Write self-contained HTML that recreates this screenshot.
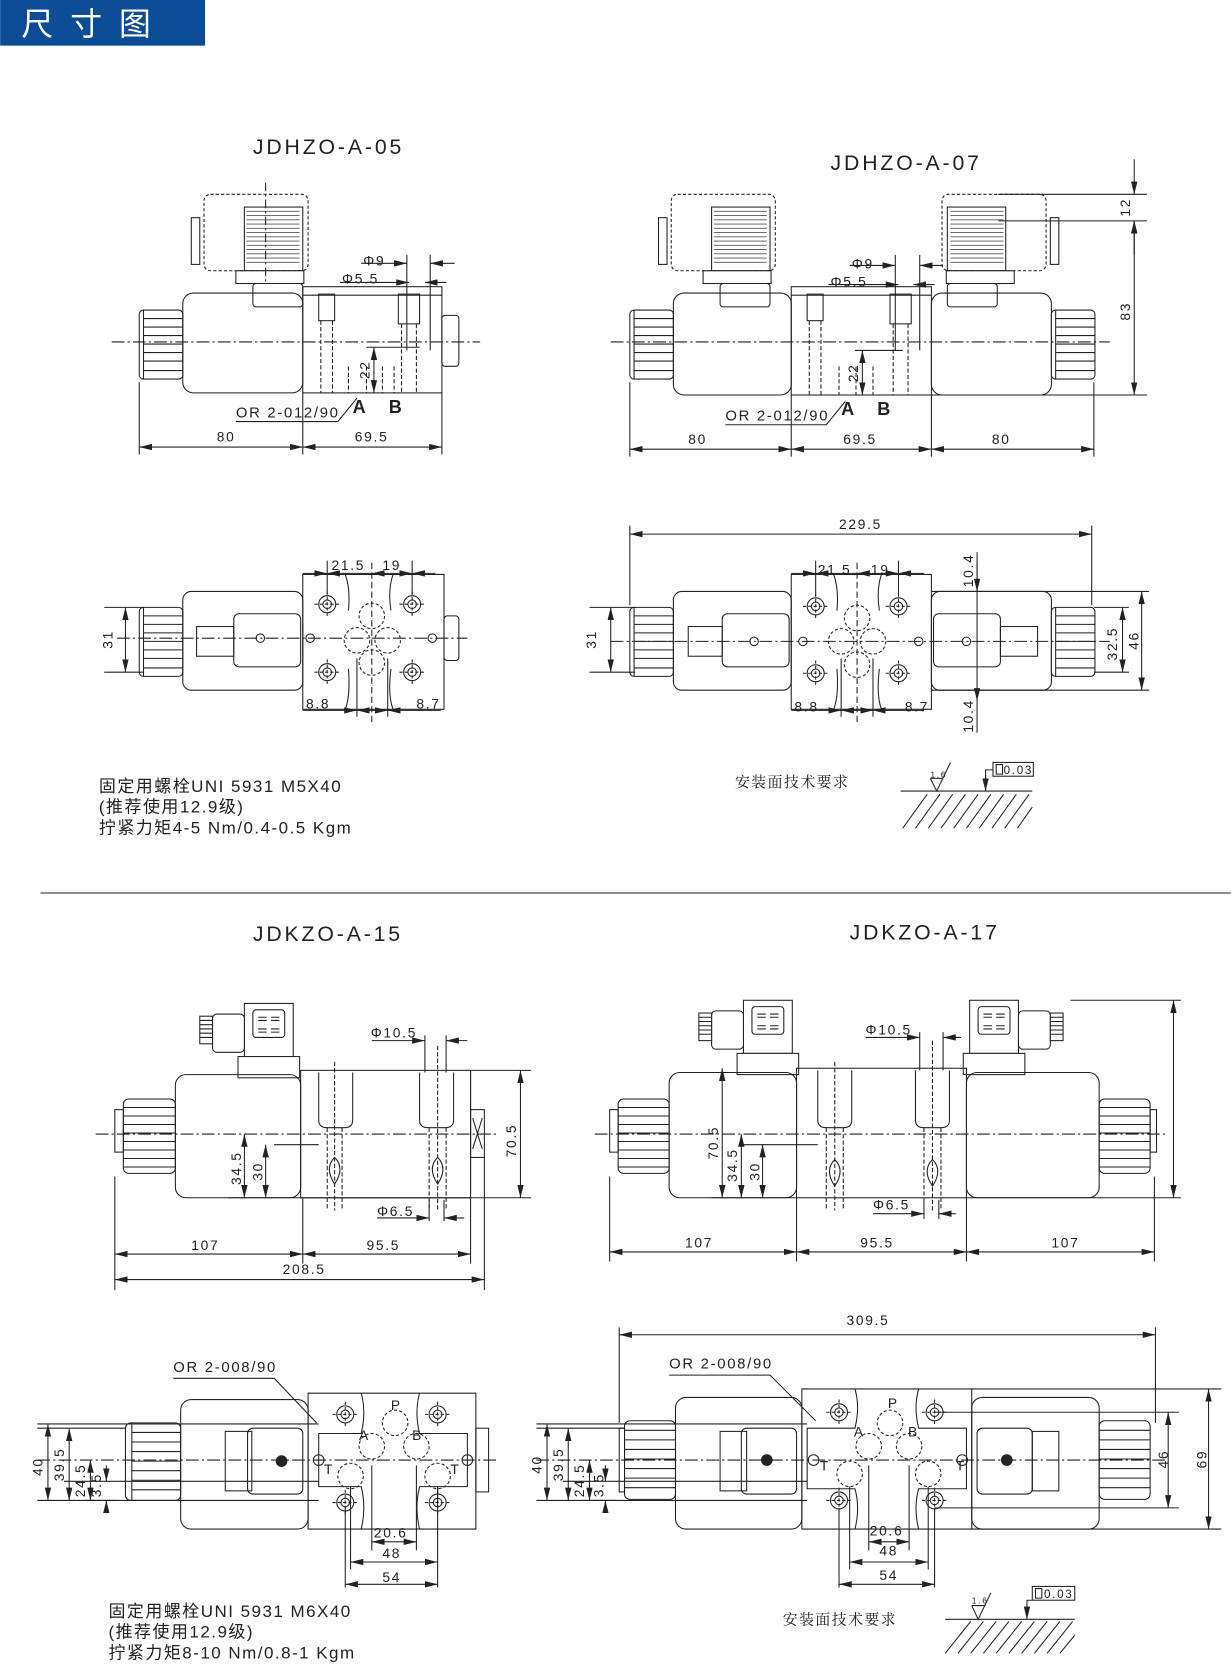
<!DOCTYPE html>
<html><head><meta charset="utf-8"><style>
html,body{margin:0;padding:0;background:#fff}
svg{display:block}
text{font-family:"Liberation Sans","Noto Sans CJK SC",sans-serif;fill:#222}
.t{letter-spacing:2.7px}
.d{letter-spacing:1.6px}
.n{letter-spacing:1.4px}
</style></head><body>
<svg width="1231" height="1665" viewBox="0 0 1159 1568" xmlns="http://www.w3.org/2000/svg">
<defs>
<marker id="a" viewBox="0 0 12 6" refX="12" refY="3" markerWidth="12" markerHeight="6" markerUnits="userSpaceOnUse" orient="auto-start-reverse"><path d="M0,0 L12,3 L0,6 z" fill="#222"/></marker>
<g id="knS"><rect x="0" y="0" width="41" height="65" rx="4" fill="#fff" stroke="#222"/><path d="M4,0V65M4,8H41M4,16H41M4,24H41M4,32H41M4,40H41M4,48H41M4,57H41" stroke="#222" fill="none"/></g>
<g id="hole"><circle r="8" fill="none" stroke="#222"/><circle r="4" fill="none" stroke="#222"/><path d="M-12,0H12M0,-12V12" stroke="#222" stroke-dasharray="3 2"/></g>
<g id="port"><circle r="12" fill="none" stroke="#222" stroke-dasharray="3 2"/></g>
<g id="conA"><rect x="0" y="0" width="98" height="72" rx="6" fill="none" stroke="#222" stroke-dasharray="3 2"/><rect x="38" y="12" width="55" height="60" fill="none" stroke="#222"/><path d="M40,16H90M40,20H90M40,24H90M40,28H90M40,32H90M40,36H90M40,40H90M40,44H90M40,48H90M40,52H90M40,56H90M40,60H90M40,64H90" stroke="#555" stroke-width="0.8"/><rect x="-12" y="22" width="8" height="44" fill="none" stroke="#222"/><rect x="30" y="72" width="64" height="12" fill="#fff" stroke="#222"/><rect x="46" y="84" width="47" height="22" rx="3" fill="#fff" stroke="#222"/></g>
<g id="conB"><rect x="0" y="0" width="46" height="50" fill="#fff" stroke="#222"/><rect x="8" y="6" width="30" height="26" rx="3" fill="none" stroke="#222"/><path d="M13,13h8M25,13h8M13,16h8M25,16h8M13,24h8M25,24h8M13,27h8M25,27h8" stroke="#222"/><rect x="-30" y="10" width="30" height="36" rx="4" fill="#fff" stroke="#222"/><rect x="-42" y="12" width="12" height="26" fill="#fff" stroke="#222"/><path d="M-42,16h12M-42,20h12M-42,24h12M-42,28h12M-42,32h12" stroke="#222"/><rect x="-6" y="50" width="58" height="20" fill="#fff" stroke="#222"/></g>
</defs>
<rect x="0" y="0" width="193" height="43" fill="#0d4c97"/>
<text x="20" y="33" font-size="30" style="fill:#fff" letter-spacing="16">尺寸图</text>

<text class="t" x="238" y="145" font-size="20">JDHZO-A-05</text>
<text class="t" x="782" y="160" font-size="20">JDHZO-A-07</text>

<g fill="none" stroke="#222" stroke-width="1">
<!-- Drawing 1 -->
<use href="#conA" x="192" y="183"/>
<path d="M250,172V265" stroke-dasharray="8 3 2 3"/>
<use href="#knS" x="131" y="292"/>
<rect x="172" y="276" width="113" height="94" rx="10"/>
<rect x="285" y="270" width="131" height="100"/>
<path d="M285,278H416"/>
<rect x="416" y="297" width="16" height="48" rx="3"/>
<rect x="300" y="277" width="15" height="25"/><rect x="375" y="277" width="20" height="28"/>
<path d="M302,302V370M313,302V370M378,305V370M392,305V370M328,345V370M345,345V370M360,345V370M371,345V370" stroke-dasharray="4 2"/>
<path d="M105,322H452" stroke-dasharray="12 3 2 3"/>
<path d="M131,360V428M285,370V428M416,370V428"/>
<line x1="131" y1="421" x2="285" y2="421" marker-start="url(#a)" marker-end="url(#a)"/>
<line x1="285" y1="421" x2="416" y2="421" marker-start="url(#a)" marker-end="url(#a)"/>
<path d="M383,240V330M405,240V330"/>
<line x1="340" y1="248" x2="383" y2="248" marker-end="url(#a)"/><line x1="428" y1="248" x2="405" y2="248" marker-end="url(#a)"/>
<line x1="320" y1="266" x2="385" y2="266" marker-end="url(#a)"/><line x1="420" y1="266" x2="400" y2="266" marker-end="url(#a)"/>
<path d="M345,327H395"/>
<line x1="352" y1="327" x2="352" y2="370" marker-start="url(#a)" marker-end="url(#a)"/>
<path d="M222,397H318L336,375"/>

<!-- Drawing 2 -->
<use href="#conA" x="632" y="183"/>
<g transform="translate(1617,0) scale(-1,1)"><use href="#conA" x="632" y="183"/></g>
<use href="#knS" x="593" y="292"/>
<rect x="634" y="276" width="111" height="96" rx="10"/>
<rect x="745" y="270" width="132" height="102"/>
<path d="M745,278H877"/>
<rect x="877" y="276" width="113" height="96" rx="10"/>
<use href="#knS" x="990" y="292"/>
<rect x="760" y="277" width="15" height="25"/><rect x="838" y="277" width="20" height="28"/>
<path d="M762,302V372M773,302V372M841,305V372M855,305V372M790,345V372M806,345V372M822,345V372" stroke-dasharray="4 2"/>
<path d="M575,322H1045" stroke-dasharray="12 3 2 3"/>
<path d="M593,360V430M745,372V430M877,372V430M1030,360V430"/>
<line x1="593" y1="423" x2="745" y2="423" marker-start="url(#a)" marker-end="url(#a)"/>
<line x1="745" y1="423" x2="877" y2="423" marker-start="url(#a)" marker-end="url(#a)"/>
<line x1="877" y1="423" x2="1030" y2="423" marker-start="url(#a)" marker-end="url(#a)"/>
<path d="M843,240V330M866,240V330"/>
<line x1="800" y1="250" x2="843" y2="250" marker-end="url(#a)"/><line x1="888" y1="250" x2="866" y2="250" marker-end="url(#a)"/>
<line x1="780" y1="268" x2="846" y2="268" marker-end="url(#a)"/><line x1="880" y1="268" x2="860" y2="268" marker-end="url(#a)"/>
<path d="M805,330H850"/>
<line x1="812" y1="330" x2="812" y2="372" marker-start="url(#a)" marker-end="url(#a)"/>
<path d="M683,400H778L796,378"/>
<path d="M940,183H1080M940,208H1080M877,372H1080"/>
<line x1="1068" y1="150" x2="1068" y2="183" marker-end="url(#a)"/><line x1="1068" y1="240" x2="1068" y2="208" marker-end="url(#a)"/>
<line x1="1068" y1="208" x2="1068" y2="372" marker-start="url(#a)" marker-end="url(#a)"/>

<!-- Drawing 3 (05 top) -->
<use href="#knS" x="131" y="572"/>
<rect x="172" y="557" width="113" height="93" rx="8"/>
<rect x="220" y="578" width="63" height="50" rx="5"/>
<rect x="185" y="590" width="35" height="28"/>
<circle cx="245" cy="601" r="4"/>
<path d="M285,541H418V668H285Z"/>
<path d="M325,541Q330,555 328,575 M370,541Q365,555 368,575 M325,668Q330,655 328,630 M370,668Q365,655 368,630"/>
<rect x="418" y="580" width="14" height="42" rx="3"/>
<use href="#hole" x="308" y="569"/><use href="#hole" x="388" y="569"/><use href="#hole" x="308" y="633"/><use href="#hole" x="388" y="633"/>
<use href="#port" x="350" y="580"/><use href="#port" x="336" y="603"/><use href="#port" x="365" y="603"/><use href="#port" x="350" y="624"/>
<circle cx="292" cy="601" r="4"/><circle cx="407" cy="601" r="4"/>
<path d="M110,601H440" stroke-dasharray="12 3 2 3"/>
<path d="M350,530V680" stroke-dasharray="6 3"/>
<path d="M308,528V560M388,528V560M336,620V675M365,620V675"/>
<line x1="285" y1="540" x2="308" y2="540" marker-end="url(#a)"/><line x1="350" y1="540" x2="308" y2="540" marker-end="url(#a)"/>
<line x1="350" y1="540" x2="388" y2="540" marker-start="url(#a)" marker-end="url(#a)"/><line x1="410" y1="540" x2="388" y2="540" marker-end="url(#a)"/>
<line x1="285" y1="669" x2="336" y2="669" marker-end="url(#a)"/><line x1="336" y1="669" x2="350" y2="669" marker-start="url(#a)"/>
<line x1="350" y1="669" x2="365" y2="669" marker-end="url(#a)"/><line x1="415" y1="669" x2="365" y2="669" marker-end="url(#a)"/>
<path d="M98,572H135M98,633H135"/>
<line x1="118" y1="572" x2="118" y2="633" marker-start="url(#a)" marker-end="url(#a)"/>

<!-- Drawing 4 (07 top) -->
<use href="#knS" x="593" y="572"/>
<rect x="634" y="557" width="111" height="93" rx="8"/>
<rect x="680" y="578" width="63" height="50" rx="5"/>
<rect x="648" y="590" width="32" height="28"/>
<circle cx="710" cy="604" r="4"/>
<path d="M745,541H877V668H745Z"/>
<path d="M785,541Q790,555 788,575 M830,541Q825,555 828,575 M785,668Q790,655 788,630 M830,668Q825,655 828,630"/>
<rect x="877" y="557" width="113" height="93" rx="8"/>
<rect x="879" y="578" width="63" height="50" rx="5"/>
<rect x="942" y="590" width="35" height="28"/>
<circle cx="910" cy="604" r="4"/>
<use href="#knS" x="990" y="572"/>
<use href="#hole" x="768" y="571"/><use href="#hole" x="846" y="571"/><use href="#hole" x="768" y="634"/><use href="#hole" x="846" y="634"/>
<use href="#port" x="807" y="582"/><use href="#port" x="792" y="604"/><use href="#port" x="822" y="604"/><use href="#port" x="807" y="626"/>
<circle cx="756" cy="604" r="4"/><circle cx="865" cy="604" r="4"/>
<path d="M575,604H1045" stroke-dasharray="12 3 2 3"/>
<path d="M807,530V680" stroke-dasharray="6 3"/>
<path d="M593,495V570M1028,495V570"/>
<line x1="593" y1="503" x2="1028" y2="503" marker-start="url(#a)" marker-end="url(#a)"/>
<path d="M768,528V560M846,528V560M792,620V675M822,620V675"/>
<line x1="745" y1="540" x2="768" y2="540" marker-end="url(#a)"/><line x1="807" y1="540" x2="768" y2="540" marker-end="url(#a)"/>
<line x1="807" y1="540" x2="846" y2="540" marker-start="url(#a)" marker-end="url(#a)"/><line x1="870" y1="540" x2="846" y2="540" marker-end="url(#a)"/>
<line x1="745" y1="669" x2="792" y2="669" marker-end="url(#a)"/><line x1="792" y1="669" x2="807" y2="669" marker-start="url(#a)"/>
<line x1="807" y1="669" x2="822" y2="669" marker-end="url(#a)"/><line x1="870" y1="669" x2="822" y2="669" marker-end="url(#a)"/>
<path d="M920,520V690"/>
<line x1="920" y1="530" x2="920" y2="557" marker-end="url(#a)"/><line x1="920" y1="660" x2="920" y2="650" marker-start="url(#a)"/>
<path d="M555,572H598M555,633H598"/>
<line x1="575" y1="572" x2="575" y2="633" marker-start="url(#a)" marker-end="url(#a)"/>
<path d="M1030,572H1063M1030,633H1063M877,557H1082M877,650H1082"/>
<line x1="1057" y1="572" x2="1057" y2="633" marker-start="url(#a)" marker-end="url(#a)"/>
<line x1="1075" y1="557" x2="1075" y2="650" marker-start="url(#a)" marker-end="url(#a)"/>

<!-- surface symbol 1 -->
<path d="M848,745H972"/>
<path d="M850,780L873,748M862,780L885,748M874,780L897,748M886,780L909,748M898,780L921,748M910,780L933,748M922,780L945,748M934,780L957,748M946,780L969,748M958,780L972,760"/>
<path d="M876,733L882,745L895,718"/>
<path d="M876,733H888"/>
<path d="M935,725H928V745"/><line x1="928" y1="730" x2="928" y2="745" marker-end="url(#a)"/>
<rect x="935" y="718" width="38" height="13"/>
<path d="M938,720h6v9h-6z"/>

<path d="M38,841H1159"/>
</g>
<g font-size="13" class="d">
<text x="342" y="250">Φ9</text><text x="322" y="267">Φ5.5</text>
<text x="204" y="416">80</text><text x="334" y="416">69.5</text>
<text x="222" y="393" font-size="14">OR 2-012/90</text>
<text x="332" y="389" font-size="17" font-weight="bold">A</text><text x="366" y="389" font-size="17" font-weight="bold">B</text>
<text transform="translate(348,357) rotate(-90)">22</text>
<text x="802" y="253">Φ9</text><text x="782" y="270">Φ5.5</text>
<text x="648" y="418">80</text><text x="794" y="418">69.5</text><text x="934" y="418">80</text>
<text x="683" y="396" font-size="14">OR 2-012/90</text>
<text x="792" y="391" font-size="17" font-weight="bold">A</text><text x="826" y="391" font-size="17" font-weight="bold">B</text>
<text transform="translate(808,360) rotate(-90)">22</text>
<text transform="translate(1064,204) rotate(-90)">12</text>
<text transform="translate(1064,302) rotate(-90)">83</text>
<text x="312" y="537">21.5</text><text x="360" y="537">19</text>
<text x="288" y="667">8.8</text><text x="392" y="667">8.7</text>
<text transform="translate(106,611) rotate(-90)">31</text>
<text x="790" y="498">229.5</text>
<text x="770" y="541">21.5</text><text x="820" y="541">19</text>
<text x="748" y="670">8.8</text><text x="852" y="670">8.7</text>
<text transform="translate(916,553) rotate(-90)">10.4</text>
<text transform="translate(916,690) rotate(-90)">10.4</text>
<text transform="translate(561,611) rotate(-90)">31</text>
<text transform="translate(1052,622) rotate(-90)">32.5</text>
<text transform="translate(1072,612) rotate(-90)">46</text>
<text x="876" y="732" font-size="8">1.6</text><text x="945" y="729" font-size="11">0.03</text>
</g>
<g font-size="16" class="n">
<text x="93" y="746">固定用螺栓UNI 5931 M5X40</text>
<text x="93" y="765">(推荐使用12.9级)</text>
<text x="93" y="785">拧紧力矩4-5 Nm/0.4-0.5 Kgm</text>
<text x="692" y="741" font-size="14" style="font-family:'Noto Serif CJK SC',serif">安装面技术要求</text>
</g>

<text class="t" x="238" y="886" font-size="20">JDKZO-A-15</text>
<text class="t" x="800" y="885" font-size="20">JDKZO-A-17</text>

<g fill="none" stroke="#222" stroke-width="1">
<!-- Drawing 5 (15 side) -->
<use href="#conB" x="230" y="945"/>
<rect x="108" y="1045" width="8" height="40"/>
<rect x="116" y="1035" width="49" height="70" rx="5"/>
<path d="M116,1043H165M116,1051H165M116,1059H165M116,1067H165M116,1075H165M116,1083H165M116,1091H165M116,1099H165"/>
<rect x="165" y="1012" width="118" height="116" rx="10"/>
<rect x="283" y="1008" width="160" height="120"/>
<path d="M443,1008V1128"/>
<rect x="443" y="1045" width="13" height="45"/><path d="M445,1053L454,1082M454,1053L445,1082"/>
<path d="M300,1010V1055Q300,1062 308,1062H324Q332,1062 332,1055V1010M395,1010V1055Q395,1062 403,1062H419Q427,1062 427,1055V1010"/>
<path d="M315,1000V1140M412,985V1140M404,1062V1140M420,1062V1140M308,1062V1140M322,1062V1140" stroke-dasharray="4 2"/>
<path d="M315,1090Q305,1100 315,1115Q325,1100 315,1090Z M412,1090Q402,1100 412,1115Q422,1100 412,1090Z"/>
<path d="M90,1068H470" stroke-dasharray="12 3 2 3"/>
<path d="M215,1128H500M258,1078H300M443,1008H500"/>
<line x1="490" y1="1008" x2="490" y2="1128" marker-start="url(#a)" marker-end="url(#a)"/>
<line x1="230" y1="1068" x2="230" y2="1128" marker-start="url(#a)" marker-end="url(#a)"/>
<line x1="250" y1="1078" x2="250" y2="1128" marker-start="url(#a)" marker-end="url(#a)"/>
<path d="M108,1108V1215M285,1128V1190M443,1128V1190M456,1090V1215"/>
<line x1="108" y1="1181" x2="285" y2="1181" marker-start="url(#a)" marker-end="url(#a)"/>
<line x1="285" y1="1181" x2="443" y2="1181" marker-start="url(#a)" marker-end="url(#a)"/>
<line x1="108" y1="1205" x2="456" y2="1205" marker-start="url(#a)" marker-end="url(#a)"/>
<path d="M400,975V1010M420,975V1010M404,1130V1150M418,1130V1150"/>
<line x1="350" y1="980" x2="400" y2="980" marker-end="url(#a)"/><line x1="440" y1="980" x2="420" y2="980" marker-end="url(#a)"/>
<line x1="355" y1="1147" x2="404" y2="1147" marker-end="url(#a)"/><line x1="437" y1="1147" x2="418" y2="1147" marker-end="url(#a)"/>

<!-- Drawing 6 (17 side) -->
<use href="#conB" x="700" y="942"/>
<g transform="translate(1659,0) scale(-1,1)"><use href="#conB" x="700" y="942"/></g>
<rect x="574" y="1045" width="8" height="40"/>
<rect x="582" y="1035" width="48" height="70" rx="5"/>
<path d="M582,1043H630M582,1051H630M582,1059H630M582,1067H630M582,1075H630M582,1083H630M582,1091H630M582,1099H630"/>
<rect x="630" y="1010" width="120" height="118" rx="10"/>
<rect x="750" y="1006" width="160" height="122"/>
<rect x="910" y="1010" width="125" height="118" rx="10"/>
<rect x="1035" y="1035" width="48" height="70" rx="5"/>
<rect x="1083" y="1045" width="6" height="40"/>
<path d="M1035,1043H1083M1035,1051H1083M1035,1059H1083M1035,1067H1083M1035,1075H1083M1035,1083H1083M1035,1091H1083M1035,1099H1083"/>
<path d="M770,1008V1055Q770,1062 778,1062H794Q802,1062 802,1055V1008M862,1008V1055Q862,1062 870,1062H886Q894,1062 894,1055V1008"/>
<path d="M786,1000V1140M878,980V1140M870,1062V1140M886,1062V1140M778,1062V1140M794,1062V1140" stroke-dasharray="4 2"/>
<path d="M786,1092Q776,1102 786,1117Q796,1102 786,1092Z M878,1092Q868,1102 878,1117Q888,1102 878,1092Z"/>
<path d="M560,1068H1100" stroke-dasharray="12 3 2 3"/>
<path d="M670,1128H750M700,1078H770M1008,942H1112M910,1128H1112"/>
<line x1="680" y1="1006" x2="680" y2="1128" marker-start="url(#a)" marker-end="url(#a)"/>
<line x1="698" y1="1068" x2="698" y2="1128" marker-start="url(#a)" marker-end="url(#a)"/>
<line x1="718" y1="1078" x2="718" y2="1128" marker-start="url(#a)" marker-end="url(#a)"/>
<line x1="1105" y1="942" x2="1105" y2="1128" marker-start="url(#a)" marker-end="url(#a)"/>
<path d="M574,1108V1188M750,1128V1188M910,1128V1188M1087,1108V1188"/>
<line x1="574" y1="1179" x2="750" y2="1179" marker-start="url(#a)" marker-end="url(#a)"/>
<line x1="750" y1="1179" x2="910" y2="1179" marker-start="url(#a)" marker-end="url(#a)"/>
<line x1="910" y1="1179" x2="1087" y2="1179" marker-start="url(#a)" marker-end="url(#a)"/>
<path d="M866,972V1008M888,972V1008M870,1130V1148M884,1130V1148"/>
<line x1="815" y1="977" x2="866" y2="977" marker-end="url(#a)"/><line x1="905" y1="977" x2="888" y2="977" marker-end="url(#a)"/>
<line x1="822" y1="1143" x2="870" y2="1143" marker-end="url(#a)"/><line x1="900" y1="1143" x2="884" y2="1143" marker-end="url(#a)"/>

<!-- Drawing 7 (15 top) -->
<rect x="118" y="1340" width="52" height="73" rx="5"/>
<path d="M124,1340V1413M124,1349H170M124,1358H170M124,1367H170M124,1376H170M124,1385H170M124,1394H170M124,1403H170"/>
<rect x="170" y="1318" width="120" height="122" rx="10"/>
<rect x="212" y="1348" width="25" height="56"/>
<rect x="233" y="1345" width="52" height="62" rx="5"/>
<circle cx="265" cy="1376" r="5" fill="#222"/>
<path d="M290,1312H448V1440H290Z"/>
<path d="M340,1312Q345,1330 340,1350H300V1400H340Q345,1420 340,1440M395,1312Q390,1330 395,1350H440V1400H395Q390,1420 395,1440"/>
<rect x="448" y="1345" width="12" height="60"/>
<use href="#hole" x="325" y="1332"/><use href="#hole" x="412" y="1332"/><use href="#hole" x="325" y="1415"/><use href="#hole" x="412" y="1415"/>
<use href="#port" x="372" y="1340"/><use href="#port" x="350" y="1362"/><use href="#port" x="392" y="1362"/><use href="#port" x="330" y="1390"/><use href="#port" x="412" y="1390"/>
<circle cx="300" cy="1375" r="5"/><circle cx="440" cy="1375" r="5"/>
<path d="M35,1375H470" stroke-dasharray="12 3 2 3"/>
<path d="M35,1341H300M35,1345H118M60,1395H300M80,1413H300"/>
<line x1="45" y1="1341" x2="45" y2="1413" marker-start="url(#a)" marker-end="url(#a)"/>
<line x1="65" y1="1345" x2="65" y2="1413" marker-start="url(#a)" marker-end="url(#a)"/>
<line x1="85" y1="1375" x2="85" y2="1413" marker-start="url(#a)" marker-end="url(#a)"/>
<line x1="100" y1="1380" x2="100" y2="1395" marker-end="url(#a)"/><line x1="100" y1="1425" x2="100" y2="1413" marker-end="url(#a)"/>
<path d="M35,1413H110"/>
<path d="M350,1380V1460M392,1380V1460M330,1400V1478M412,1400V1478M325,1420V1495M412,1420V1495"/>
<line x1="350" y1="1452" x2="371" y2="1452" marker-start="url(#a)"/><line x1="371" y1="1452" x2="392" y2="1452" marker-end="url(#a)"/>
<line x1="330" y1="1471" x2="412" y2="1471" marker-start="url(#a)" marker-end="url(#a)"/>
<line x1="325" y1="1492" x2="412" y2="1492" marker-start="url(#a)" marker-end="url(#a)"/>
<path d="M163,1298H258L298,1340"/>

<!-- Drawing 8 (17 top) -->
<path d="M583,1250V1340M1088,1250V1340"/>
<line x1="583" y1="1257" x2="1088" y2="1257" marker-start="url(#a)" marker-end="url(#a)"/>
<rect x="583" y="1345" width="5" height="60"/>
<rect x="588" y="1338" width="48" height="74" rx="5"/>
<path d="M588,1347H636M588,1356H636M588,1365H636M588,1374H636M588,1383H636M588,1392H636M588,1401H636"/>
<rect x="636" y="1316" width="119" height="124" rx="10"/>
<rect x="678" y="1348" width="25" height="56"/>
<rect x="698" y="1345" width="52" height="62" rx="5"/>
<circle cx="722" cy="1375" r="5" fill="#222"/>
<path d="M755,1308H915V1440H755Z"/>
<path d="M805,1308Q810,1325 805,1345H760V1402H805Q810,1420 805,1440M865,1308Q860,1325 865,1345H910V1402H865Q860,1420 865,1440"/>
<rect x="915" y="1316" width="120" height="124" rx="10"/>
<rect x="920" y="1345" width="52" height="62" rx="5"/>
<rect x="972" y="1348" width="25" height="56"/>
<circle cx="948" cy="1375" r="5" fill="#222"/>
<rect x="1035" y="1338" width="48" height="74" rx="5"/>
<path d="M1035,1347H1083M1035,1356H1083M1035,1365H1083M1035,1374H1083M1035,1383H1083M1035,1392H1083M1035,1401H1083"/>
<use href="#hole" x="790" y="1330"/><use href="#hole" x="880" y="1330"/><use href="#hole" x="790" y="1413"/><use href="#hole" x="880" y="1413"/>
<use href="#port" x="838" y="1340"/><use href="#port" x="818" y="1362"/><use href="#port" x="856" y="1362"/><use href="#port" x="800" y="1388"/><use href="#port" x="874" y="1388"/>
<circle cx="766" cy="1375" r="5"/><circle cx="906" cy="1375" r="5"/>
<path d="M505,1375H1100" stroke-dasharray="12 3 2 3"/>
<path d="M505,1341H760M505,1345H588M530,1395H760M550,1413H760"/>
<line x1="515" y1="1341" x2="515" y2="1413" marker-start="url(#a)" marker-end="url(#a)"/>
<line x1="535" y1="1345" x2="535" y2="1413" marker-start="url(#a)" marker-end="url(#a)"/>
<line x1="555" y1="1375" x2="555" y2="1413" marker-start="url(#a)" marker-end="url(#a)"/>
<line x1="570" y1="1380" x2="570" y2="1395" marker-end="url(#a)"/><line x1="570" y1="1425" x2="570" y2="1413" marker-end="url(#a)"/>
<path d="M505,1413H580"/>
<path d="M915,1308H1150M880,1330H1110M880,1420H1110M915,1440H1150"/>
<line x1="1100" y1="1330" x2="1100" y2="1420" marker-start="url(#a)" marker-end="url(#a)"/>
<line x1="1138" y1="1308" x2="1138" y2="1440" marker-start="url(#a)" marker-end="url(#a)"/>
<path d="M818,1380V1460M856,1380V1460M800,1400V1478M874,1400V1478M790,1420V1495M880,1420V1495"/>
<line x1="818" y1="1452" x2="837" y2="1452" marker-start="url(#a)"/><line x1="837" y1="1452" x2="856" y2="1452" marker-end="url(#a)"/>
<line x1="800" y1="1471" x2="874" y2="1471" marker-start="url(#a)" marker-end="url(#a)"/>
<line x1="790" y1="1492" x2="880" y2="1492" marker-start="url(#a)" marker-end="url(#a)"/>
<path d="M630,1295H725L768,1338"/>

<!-- surface symbol 2 -->
<path d="M890,1525H1012"/>
<path d="M890,1557L914,1527M902,1557L926,1527M914,1557L938,1527M926,1557L950,1527M938,1557L962,1527M950,1557L974,1527M962,1557L986,1527M974,1557L998,1527M986,1557L1010,1527M998,1557L1012,1540"/>
<path d="M915,1512L921,1525L933,1500M915,1512H928"/>
<path d="M972,1507H967V1525"/><line x1="967" y1="1510" x2="967" y2="1525" marker-end="url(#a)"/>
<rect x="972" y="1494" width="40" height="13"/>
<path d="M975,1496h6v9h-6z"/>
</g>
<g font-size="13" class="d">
<text x="349" y="977">Φ10.5</text><text x="355" y="1145">Φ6.5</text>
<text x="180" y="1177">107</text><text x="345" y="1177">95.5</text><text x="266" y="1200">208.5</text>
<text transform="translate(486,1090) rotate(-90)">70.5</text>
<text transform="translate(227,1116) rotate(-90)">34.5</text>
<text transform="translate(247,1112) rotate(-90)">30</text>
<text x="815" y="974">Φ10.5</text><text x="822" y="1139">Φ6.5</text>
<text x="645" y="1175">107</text><text x="810" y="1175">95.5</text><text x="990" y="1175">107</text>
<text transform="translate(676,1092) rotate(-90)">70.5</text>
<text transform="translate(694,1113) rotate(-90)">34.5</text>
<text transform="translate(715,1112) rotate(-90)">30</text>
<text x="163" y="1292" font-size="14">OR 2-008/90</text>
<text x="630" y="1289" font-size="14">OR 2-008/90</text>
<text x="368" y="1328">P</text><text x="338" y="1356">A</text><text x="388" y="1356">B</text><text x="305" y="1388">T</text><text x="424" y="1388">T</text>
<text x="836" y="1326">P</text><text x="804" y="1353">A</text><text x="855" y="1353">B</text><text x="772" y="1385">T</text><text x="900" y="1385">T</text>
<text x="352" y="1448">20.6</text><text x="360" y="1467">48</text><text x="360" y="1490">54</text>
<text x="819" y="1446">20.6</text><text x="828" y="1465">48</text><text x="828" y="1488">54</text>
<text transform="translate(40,1390) rotate(-90)">40</text>
<text transform="translate(60,1395) rotate(-90)">39.5</text>
<text transform="translate(80,1410) rotate(-90)">24.5</text>
<text transform="translate(95,1410) rotate(-90)">3.5</text>
<text transform="translate(510,1388) rotate(-90)">40</text>
<text transform="translate(530,1395) rotate(-90)">39.5</text>
<text transform="translate(550,1410) rotate(-90)">24.5</text>
<text transform="translate(568,1410) rotate(-90)">3.5</text>
<text x="797" y="1248">309.5</text>
<text transform="translate(1100,1383) rotate(-90)">46</text>
<text transform="translate(1136,1383) rotate(-90)">69</text>
<text x="915" y="1510" font-size="8">1.6</text><text x="983" y="1505" font-size="11">0.03</text>
</g>
<g font-size="16" class="n">
<text x="102" y="1523">固定用螺栓UNI 5931 M6X40</text>
<text x="102" y="1542">(推荐使用12.9级)</text>
<text x="102" y="1562">拧紧力矩8-10 Nm/0.8-1 Kgm</text>
<text x="737" y="1530" font-size="14" style="font-family:'Noto Serif CJK SC',serif">安装面技术要求</text>
</g>
</svg>
</body></html>
